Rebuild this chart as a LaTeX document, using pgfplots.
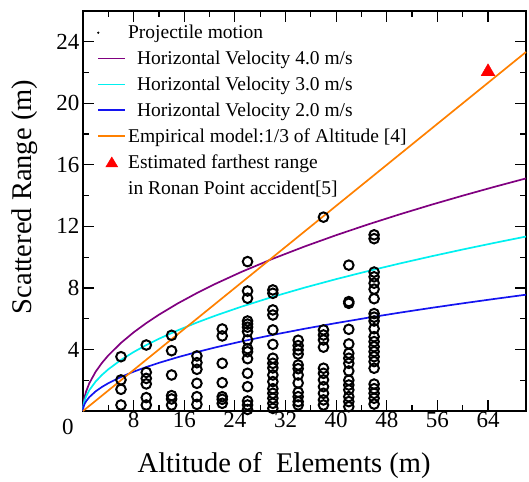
\documentclass[border=0pt]{standalone}
\usepackage{fontspec}
\setmainfont{Liberation Serif}
\usepackage{pgfplots}
\pgfplotsset{compat=1.18}
\definecolor{cpurple}{RGB}{128,0,128}
\definecolor{ccyan}{RGB}{0,240,240}
\definecolor{cblue}{RGB}{20,20,240}
\definecolor{corange}{RGB}{255,128,0}
\pgfplotsset{
  legend image code/.code={\draw[mark repeat=2,mark phase=2,#1,line width=1.7pt] plot coordinates {(0pt,0pt) (13.5pt,0pt) (27pt,0pt)};},
}
\pgfplotsset{
  trilegend/.style={legend image code/.code={\path (0pt,0pt) (27pt,0pt); \fill[red] (13.5pt,5.2pt) -- (7.5pt,-4.8pt) -- (19.5pt,-4.8pt) -- cycle;}},
  dotlegend/.style={legend image code/.code={\path (0pt,0pt) (27pt,0pt); \fill[black] (0pt,0pt) circle (0.9pt);}},
  emptylegend/.style={legend image code/.code={\path (0pt,0pt) (27pt,0pt);}},
}
\begin{document}
\begin{tikzpicture}
\begin{axis}[
  at={(0pt,0pt)}, anchor=south west,
  scale only axis, width=443pt, height=400pt,
  xmin=0, xmax=70, ymin=0, ymax=26,
  xtick={0,8,...,64}, xticklabels={,8,16,24,32,40,48,56,64},
  ytick={0,4,...,24}, yticklabels={,4,8,12,16,20,24},
  minor x tick num=1, minor y tick num=1,
  tick align=inside,
  major tick length=11pt, minor tick length=6pt,
  axis line style={line width=1.5pt},
  every tick/.style={black, line width=1.2pt},
  tick label style={font=\fontsize{23}{23}\selectfont},
  xticklabel style={yshift=2.5pt},
  /pgf/number format/assume math mode=true,
  xlabel={Altitude of\ \ Elements (m)},
  ylabel={Scattered Range (m)},
  label style={font=\fontsize{28.5}{28.5}\selectfont},
  xlabel style={at={(axis description cs:0.454,0)}, anchor=center, yshift=-54pt},
  ylabel style={at={(axis description cs:-0.131,0.535)}, anchor=center},
  clip=false,
  legend cell align=left,
  legend style={draw=none, fill=none, inner sep=0pt,
    at={(rel axis cs:0,1)}, anchor=north west, xshift=14pt, yshift=-12pt,
    font=\fontsize{19.5}{19.5}\selectfont, row sep=6.8pt},
]
\addlegendimage{dotlegend}
\addlegendentry{Projectile motion}

\addplot[cpurple, line width=1.7pt] coordinates {
(0,0) (0.02,0.2556) (0.05,0.4041) (0.1,0.5714) (0.25,0.9035) (0.5,1.2778) (1,1.8070) (2,2.5555) (3,3.1298) (4,3.6140) (6,4.4263) (8,5.1110) (10,5.7143) (12,6.2597) (15,6.9985) (18,7.6665) (21,8.2808) (25,9.0351) (30,9.8974) (35,10.6904) (40,11.4286) (45,12.1218) (50,12.7775) (55,13.4012) (60,13.9971) (65,14.5686) (70,15.1186)};
\addlegendentry{\hspace{9pt}Horizontal Velocity 4.0 m/s}

\addplot[ccyan, line width=1.7pt] coordinates {
(0,0) (0.02,0.1917) (0.05,0.3030) (0.1,0.4286) (0.25,0.6776) (0.5,0.9583) (1,1.3553) (2,1.9166) (3,2.3474) (4,2.7105) (6,3.3197) (8,3.8333) (10,4.2857) (12,4.6948) (15,5.2489) (18,5.7499) (21,6.2106) (25,6.7763) (30,7.4231) (35,8.0178) (40,8.5714) (45,9.0914) (50,9.5831) (55,10.0509) (60,10.4978) (65,10.9265) (70,11.3389)};
\addlegendentry{\hspace{9pt}Horizontal Velocity 3.0 m/s}

\addplot[cblue, line width=1.7pt] coordinates {
(0,0) (0.02,0.1278) (0.05,0.2020) (0.1,0.2857) (0.25,0.4518) (0.5,0.6389) (1,0.9035) (2,1.2778) (3,1.5649) (4,1.8070) (6,2.2131) (8,2.5555) (10,2.8571) (12,3.1298) (15,3.4993) (18,3.8333) (21,4.1404) (25,4.5175) (30,4.9487) (35,5.3452) (40,5.7143) (45,6.0609) (50,6.3888) (55,6.7006) (60,6.9985) (65,7.2843) (70,7.5593)};
\addlegendentry{\hspace{9pt}Horizontal Velocity 2.0 m/s}

\addplot[corange, line width=1.7pt] coordinates {(0,0) (70,23.3333)};
\addlegendentry{Empirical model:1/3 of Altitude [4]}

\addplot[only marks, mark=triangle*, mark size=8pt, color=red, trilegend] coordinates {(64,22.05)};
\addlegendentry{Estimated farthest range}
\addlegendimage{emptylegend}
\addlegendentry{in Ronan Point accident[5]}

\addplot[only marks, mark=o, mark size=4.8pt, black, mark options={line width=2pt}, forget plot] coordinates {
(6,3.53) (6,2.02) (6,1.41) (6,0.39)
(10,4.29) (10,2.51) (10,2.12) (10,1.76) (10,0.87) (10,0.39)
(14,4.92) (14,3.92) (14,2.34) (14,1.0) (14,0.78) (14,0.39)
(18,3.58) (18,3.14) (18,2.71) (18,1.8) (18,0.93) (18,0.43)
(22,5.33) (22,4.88) (22,3.1) (22,1.84) (22,0.93) (22,0.76) (22,0.5)
(26,9.71) (26,7.8) (26,7.33) (26,5.85) (26,5.65) (26,5.45) (26,5.16) (26,4.62) (26,4.05) (26,3.85) (26,3.40) (26,2.45) (26,1.58) (26,0.65) (26,0.39) (26,0.1)
(30,7.87) (30,7.65) (30,6.57) (30,6.24) (30,5.27) (30,4.33) (30,3.43) (30,3.10) (30,2.80) (30,2.34) (30,1.91) (30,1.45) (30,1.15) (30,0.83) (30,0.50) (30,0.17)
(34,4.60) (34,4.25) (34,3.97) (34,3.70) (34,2.99) (34,2.75) (34,2.34) (34,1.82) (34,1.22) (34,0.93) (34,0.61) (34,0.39)
(38,12.6) (38,5.27) (38,4.94) (38,4.62) (38,4.15) (38,2.78) (38,2.45) (38,2.02) (38,1.58) (38,1.15) (38,0.72) (38,0.39)
(42,9.48) (42,7.11) (42,7.0) (42,5.31) (42,4.36) (42,3.75) (42,3.43) (42,3.10) (42,2.6) (42,2.0) (42,1.69) (42,1.37) (42,0.93) (42,0.61) (42,0.28)
(46,11.45) (46,11.2) (46,9.03) (46,8.72) (46,8.31) (46,7.92) (46,7.30) (46,6.33) (46,6.10) (46,5.85) (46,5.35) (46,4.83) (46,4.51) (46,4.18) (46,3.86) (46,3.53) (46,3.21) (46,2.78) (46,1.75) (46,1.45) (46,1.15) (46,0.83) (46,0.45)};

\node[font=\fontsize{23}{23}\selectfont, anchor=center] at (rel axis cs:0,0) [xshift=-15pt, yshift=-16pt] {0};
\end{axis}
\pgfresetboundingbox
\useasboundingbox (-83pt,-70pt) rectangle (446pt,411pt);
\end{tikzpicture}
\end{document}
